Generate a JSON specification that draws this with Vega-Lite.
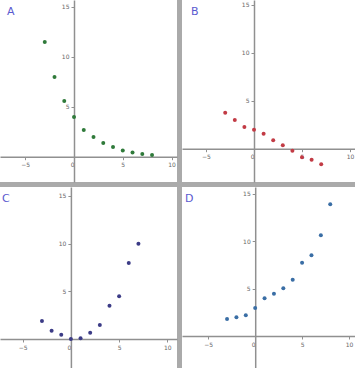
{
  "$schema": "https://vega.github.io/schema/vega-lite/v6.json",
  "padding": 0,
  "background": "#aaaaaa",
  "config": {
    "view": {"fill": "white", "stroke": null},
    "concat": {"spacing": 5},
    "axis": {
      "grid": false,
      "title": null,
      "domainColor": "#909090",
      "domainWidth": 1.5,
      "tickColor": "#909090",
      "tickSize": 3,
      "labelFontSize": 6,
      "labelColor": "#666666",
      "labelFont": "DejaVu Sans",
      "labelPadding": 2
    },
    "title": {"anchor": "start", "fontSize": 11, "fontWeight": "normal", "font": "DejaVu Sans", "color": "#5a5acf", "offset": -17, "baseline": "top"}
  },
  "datasets": {
    "A": [
      {"x": -3, "y": 11.47}, {"x": -2, "y": 7.97}, {"x": -1, "y": 5.57}, {"x": 0, "y": 3.97},
      {"x": 1, "y": 2.67}, {"x": 2, "y": 1.97}, {"x": 3, "y": 1.37}, {"x": 4, "y": 0.97},
      {"x": 5, "y": 0.63}, {"x": 6, "y": 0.43}, {"x": 7, "y": 0.27}, {"x": 8, "y": 0.17}
    ],
    "B": [
      {"x": -3, "y": 3.76}, {"x": -2, "y": 3.0}, {"x": -1, "y": 2.27}, {"x": 0, "y": 1.98},
      {"x": 1, "y": 1.57}, {"x": 2, "y": 0.87}, {"x": 3, "y": 0.35}, {"x": 4, "y": -0.21},
      {"x": 5, "y": -0.9}, {"x": 6, "y": -1.15}, {"x": 7, "y": -1.63}
    ],
    "C": [
      {"x": -3, "y": 1.88}, {"x": -2, "y": 0.87}, {"x": -1, "y": 0.45}, {"x": 0, "y": 0.0},
      {"x": 1, "y": 0.07}, {"x": 2, "y": 0.66}, {"x": 3, "y": 1.47}, {"x": 4, "y": 3.49},
      {"x": 5, "y": 4.47}, {"x": 6, "y": 7.96}, {"x": 7, "y": 9.98}
    ],
    "D": [
      {"x": -3, "y": 1.8}, {"x": -2, "y": 1.97}, {"x": -1, "y": 2.18}, {"x": 0, "y": 2.96},
      {"x": 1, "y": 3.98}, {"x": 2, "y": 4.47}, {"x": 3, "y": 5.03}, {"x": 4, "y": 5.95},
      {"x": 5, "y": 7.74}, {"x": 6, "y": 8.52}, {"x": 7, "y": 10.63}, {"x": 8, "y": 13.9}
    ]
  },
  "vconcat": [
    {
      "hconcat": [
        {
          "width": 177, "height": 182,
          "data": {"name": "A"},
          "title": {"text": "A", "dx": 7},
          "mark": {"type": "circle", "size": 16, "color": "#2f7a3a", "opacity": 1},
          "encoding": {
            "x": {"field": "x", "type": "quantitative",
                  "scale": {"domain": [-7.59, 10.56], "nice": false, "zero": false},
                  "axis": {"offset": -25.3, "values": [-5, 0, 5, 10],
                           "labelAlign": {"condition": {"test": "datum.value === 0", "value": "right"}, "value": "center"}}},
            "y": {"field": "y", "type": "quantitative",
                  "scale": {"domain": [-2.53, 15.67], "nice": false, "zero": false},
                  "axis": {"offset": -74, "values": [5, 10, 15]}}
          }
        },
        {
          "width": 173, "height": 182,
          "data": {"name": "B"},
          "title": {"text": "B", "dx": 9},
          "mark": {"type": "circle", "size": 16, "color": "#c23b45", "opacity": 1},
          "encoding": {
            "x": {"field": "x", "type": "quantitative",
                  "scale": {"domain": [-7.5, 10.52], "nice": false, "zero": false},
                  "axis": {"offset": -33.3, "values": [-5, 0, 5, 10],
                           "labelAlign": {"condition": {"test": "datum.value === 0", "value": "right"}, "value": "center"}}},
            "y": {"field": "y", "type": "quantitative",
                  "scale": {"domain": [-3.48, 15.52], "nice": false, "zero": false},
                  "axis": {"offset": -72, "values": [5, 10, 15]}}
          }
        }
      ]
    },
    {
      "hconcat": [
        {
          "width": 177, "height": 181,
          "data": {"name": "C"},
          "title": {"text": "C", "dx": 2},
          "mark": {"type": "circle", "size": 16, "color": "#3b3b86", "opacity": 1},
          "encoding": {
            "x": {"field": "x", "type": "quantitative",
                  "scale": {"domain": [-7.35, 11.0], "nice": false, "zero": false},
                  "axis": {"offset": -29, "values": [-5, 0, 5, 10],
                           "labelAlign": {"condition": {"test": "datum.value === 0", "value": "right"}, "value": "center"}}},
            "y": {"field": "y", "type": "quantitative",
                  "scale": {"domain": [-3.04, 15.92], "nice": false, "zero": false},
                  "axis": {"offset": -70.9, "values": [5, 10, 15]}}
          }
        },
        {
          "width": 173, "height": 181,
          "data": {"name": "D"},
          "title": {"text": "D", "dx": 3},
          "mark": {"type": "circle", "size": 16, "color": "#3a6ea5", "opacity": 1},
          "encoding": {
            "x": {"field": "x", "type": "quantitative",
                  "scale": {"domain": [-7.8, 10.64], "nice": false, "zero": false},
                  "axis": {"offset": -32, "values": [-5, 0, 5, 10],
                           "labelAlign": {"condition": {"test": "datum.value === 0", "value": "right"}, "value": "center"}}},
            "y": {"field": "y", "type": "quantitative",
                  "scale": {"domain": [-3.38, 15.73], "nice": false, "zero": false},
                  "axis": {"offset": -73.2, "values": [5, 10, 15]}}
          }
        }
      ]
    }
  ]
}
